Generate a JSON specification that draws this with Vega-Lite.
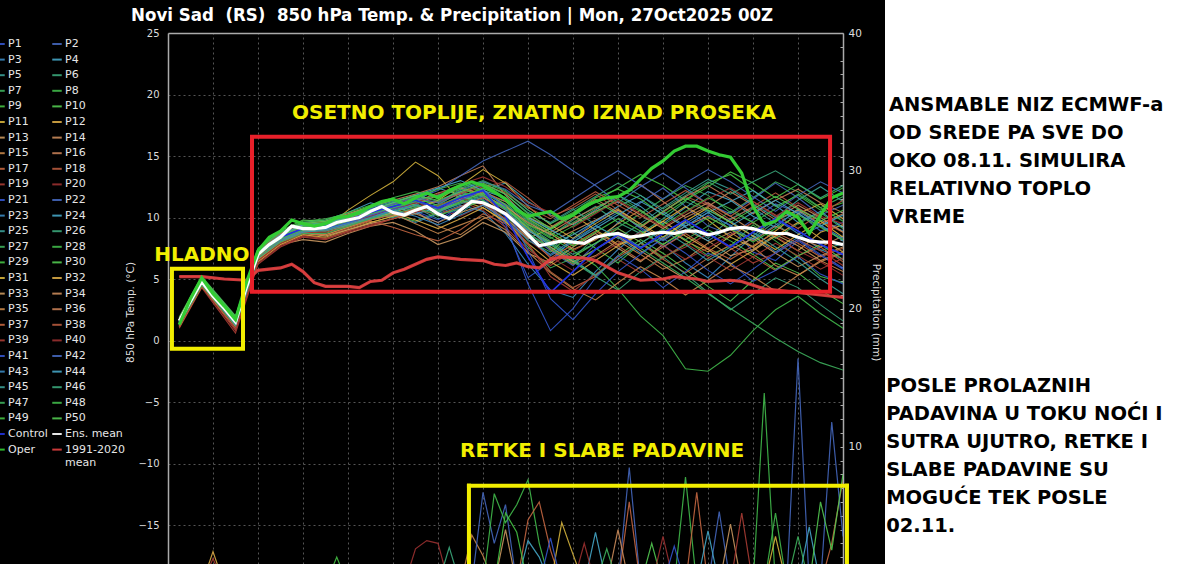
{
"$schema": "https://vega.github.io/schema/vega-lite/v6.json",
"background": "black",
"autosize": {"type": "none"},
"padding": {"left": 168, "top": 33, "right": 357, "bottom": 0},
"width": 675,
"height": 531,
"datasets": {
"temp": [
{"m":"P1","h":6,"t":1.4},{"m":"P1","h":18,"t":4.7},{"m":"P1","h":36,"t":1.2},{"m":"P1","h":48,"t":6.8},{"m":"P1","h":60,"t":8.2},{"m":"P1","h":72,"t":9.0},{"m":"P1","h":84,"t":9.5},{"m":"P1","h":96,"t":10.2},{"m":"P1","h":108,"t":10.8},{"m":"P1","h":120,"t":11.3},{"m":"P1","h":132,"t":10.4},{"m":"P1","h":144,"t":9.6},{"m":"P1","h":156,"t":10.8},{"m":"P1","h":168,"t":11.5},{"m":"P1","h":180,"t":9.2},{"m":"P1","h":192,"t":5.1},{"m":"P1","h":204,"t":6.4},{"m":"P1","h":216,"t":8.3},{"m":"P1","h":228,"t":9.7},{"m":"P1","h":240,"t":10.5},{"m":"P1","h":252,"t":9.1},{"m":"P1","h":264,"t":7.6},{"m":"P1","h":276,"t":8.8},{"m":"P1","h":288,"t":10.2},{"m":"P1","h":300,"t":9.4},{"m":"P1","h":312,"t":7.2},{"m":"P1","h":324,"t":6.5},{"m":"P1","h":336,"t":8.1},{"m":"P1","h":348,"t":6.9},{"m":"P1","h":360,"t":5.8},
{"m":"P2","h":6,"t":1.7},{"m":"P2","h":18,"t":4.9},{"m":"P2","h":36,"t":1.6},{"m":"P2","h":48,"t":7.1},{"m":"P2","h":60,"t":8.5},{"m":"P2","h":72,"t":9.3},{"m":"P2","h":84,"t":9.0},{"m":"P2","h":96,"t":9.6},{"m":"P2","h":108,"t":10.1},{"m":"P2","h":120,"t":10.9},{"m":"P2","h":132,"t":11.6},{"m":"P2","h":144,"t":11.0},{"m":"P2","h":156,"t":12.1},{"m":"P2","h":168,"t":12.6},{"m":"P2","h":180,"t":11.4},{"m":"P2","h":192,"t":8.8},{"m":"P2","h":204,"t":7.3},{"m":"P2","h":216,"t":6.1},{"m":"P2","h":228,"t":7.8},{"m":"P2","h":240,"t":9.6},{"m":"P2","h":252,"t":11.2},{"m":"P2","h":264,"t":12.4},{"m":"P2","h":276,"t":10.9},{"m":"P2","h":288,"t":9.3},{"m":"P2","h":300,"t":8.6},{"m":"P2","h":312,"t":9.8},{"m":"P2","h":324,"t":11.1},{"m":"P2","h":336,"t":10.4},{"m":"P2","h":348,"t":8.9},{"m":"P2","h":360,"t":9.6},
{"m":"P3","h":6,"t":1.2},{"m":"P3","h":18,"t":4.5},{"m":"P3","h":36,"t":1.0},{"m":"P3","h":48,"t":6.6},{"m":"P3","h":60,"t":8.0},{"m":"P3","h":72,"t":8.8},{"m":"P3","h":84,"t":8.9},{"m":"P3","h":96,"t":9.5},{"m":"P3","h":108,"t":9.9},{"m":"P3","h":120,"t":10.2},{"m":"P3","h":132,"t":9.6},{"m":"P3","h":144,"t":10.3},{"m":"P3","h":156,"t":11.0},{"m":"P3","h":168,"t":10.5},{"m":"P3","h":180,"t":8.7},{"m":"P3","h":192,"t":6.2},{"m":"P3","h":204,"t":4.1},{"m":"P3","h":216,"t":3.5},{"m":"P3","h":228,"t":5.6},{"m":"P3","h":240,"t":7.4},{"m":"P3","h":252,"t":8.9},{"m":"P3","h":264,"t":7.8},{"m":"P3","h":276,"t":6.3},{"m":"P3","h":288,"t":5.1},{"m":"P3","h":300,"t":6.8},{"m":"P3","h":312,"t":8.5},{"m":"P3","h":324,"t":9.9},{"m":"P3","h":336,"t":8.7},{"m":"P3","h":348,"t":7.4},{"m":"P3","h":360,"t":6.6},
{"m":"P4","h":6,"t":1.8},{"m":"P4","h":18,"t":5.0},{"m":"P4","h":36,"t":1.8},{"m":"P4","h":48,"t":7.3},{"m":"P4","h":60,"t":8.7},{"m":"P4","h":72,"t":9.6},{"m":"P4","h":84,"t":9.8},{"m":"P4","h":96,"t":10.4},{"m":"P4","h":108,"t":11.2},{"m":"P4","h":120,"t":10.7},{"m":"P4","h":132,"t":11.3},{"m":"P4","h":144,"t":12.4},{"m":"P4","h":156,"t":11.8},{"m":"P4","h":168,"t":12.2},{"m":"P4","h":180,"t":12.8},{"m":"P4","h":192,"t":11.3},{"m":"P4","h":204,"t":10.2},{"m":"P4","h":216,"t":9.4},{"m":"P4","h":228,"t":10.6},{"m":"P4","h":240,"t":11.8},{"m":"P4","h":252,"t":10.9},{"m":"P4","h":264,"t":9.5},{"m":"P4","h":276,"t":10.8},{"m":"P4","h":288,"t":12.1},{"m":"P4","h":300,"t":11.4},{"m":"P4","h":312,"t":10.1},{"m":"P4","h":324,"t":9.2},{"m":"P4","h":336,"t":10.7},{"m":"P4","h":348,"t":9.8},{"m":"P4","h":360,"t":8.9},
{"m":"P5","h":6,"t":1.5},{"m":"P5","h":18,"t":4.8},{"m":"P5","h":36,"t":1.4},{"m":"P5","h":48,"t":6.9},{"m":"P5","h":60,"t":8.3},{"m":"P5","h":72,"t":9.1},{"m":"P5","h":84,"t":9.3},{"m":"P5","h":96,"t":9.9},{"m":"P5","h":108,"t":10.6},{"m":"P5","h":120,"t":10.0},{"m":"P5","h":132,"t":10.8},{"m":"P5","h":144,"t":9.9},{"m":"P5","h":156,"t":10.3},{"m":"P5","h":168,"t":11.8},{"m":"P5","h":180,"t":10.7},{"m":"P5","h":192,"t":9.3},{"m":"P5","h":204,"t":8.1},{"m":"P5","h":216,"t":7.0},{"m":"P5","h":228,"t":7.9},{"m":"P5","h":240,"t":8.8},{"m":"P5","h":252,"t":7.6},{"m":"P5","h":264,"t":8.4},{"m":"P5","h":276,"t":9.6},{"m":"P5","h":288,"t":8.3},{"m":"P5","h":300,"t":9.9},{"m":"P5","h":312,"t":10.8},{"m":"P5","h":324,"t":9.5},{"m":"P5","h":336,"t":8.2},{"m":"P5","h":348,"t":7.3},{"m":"P5","h":360,"t":7.9},
{"m":"P6","h":6,"t":1.6},{"m":"P6","h":18,"t":4.9},{"m":"P6","h":36,"t":1.7},{"m":"P6","h":48,"t":7.2},{"m":"P6","h":60,"t":8.6},{"m":"P6","h":72,"t":9.4},{"m":"P6","h":84,"t":9.6},{"m":"P6","h":96,"t":10.0},{"m":"P6","h":108,"t":10.7},{"m":"P6","h":120,"t":10.5},{"m":"P6","h":132,"t":10.9},{"m":"P6","h":144,"t":10.6},{"m":"P6","h":156,"t":11.4},{"m":"P6","h":168,"t":12.0},{"m":"P6","h":180,"t":11.1},{"m":"P6","h":192,"t":9.7},{"m":"P6","h":204,"t":8.5},{"m":"P6","h":216,"t":9.8},{"m":"P6","h":228,"t":10.9},{"m":"P6","h":240,"t":9.6},{"m":"P6","h":252,"t":8.7},{"m":"P6","h":264,"t":9.9},{"m":"P6","h":276,"t":11.3},{"m":"P6","h":288,"t":10.5},{"m":"P6","h":300,"t":9.0},{"m":"P6","h":312,"t":8.3},{"m":"P6","h":324,"t":9.7},{"m":"P6","h":336,"t":10.6},{"m":"P6","h":348,"t":9.4},{"m":"P6","h":360,"t":8.1},
{"m":"P7","h":6,"t":1.3},{"m":"P7","h":18,"t":4.6},{"m":"P7","h":36,"t":1.3},{"m":"P7","h":48,"t":6.9},{"m":"P7","h":60,"t":8.4},{"m":"P7","h":72,"t":9.2},{"m":"P7","h":84,"t":9.4},{"m":"P7","h":96,"t":9.8},{"m":"P7","h":108,"t":10.3},{"m":"P7","h":120,"t":10.8},{"m":"P7","h":132,"t":11.2},{"m":"P7","h":144,"t":10.1},{"m":"P7","h":156,"t":10.9},{"m":"P7","h":168,"t":11.3},{"m":"P7","h":180,"t":9.8},{"m":"P7","h":192,"t":7.6},{"m":"P7","h":204,"t":5.9},{"m":"P7","h":216,"t":6.7},{"m":"P7","h":228,"t":8.4},{"m":"P7","h":240,"t":9.2},{"m":"P7","h":252,"t":10.3},{"m":"P7","h":264,"t":11.5},{"m":"P7","h":276,"t":12.6},{"m":"P7","h":288,"t":11.8},{"m":"P7","h":300,"t":10.4},{"m":"P7","h":312,"t":11.6},{"m":"P7","h":324,"t":12.9},{"m":"P7","h":336,"t":12.1},{"m":"P7","h":348,"t":10.8},{"m":"P7","h":360,"t":11.7},
{"m":"P8","h":6,"t":1.7},{"m":"P8","h":18,"t":5.1},{"m":"P8","h":36,"t":1.9},{"m":"P8","h":48,"t":7.4},{"m":"P8","h":60,"t":8.8},{"m":"P8","h":72,"t":9.7},{"m":"P8","h":84,"t":9.9},{"m":"P8","h":96,"t":10.3},{"m":"P8","h":108,"t":10.9},{"m":"P8","h":120,"t":11.5},{"m":"P8","h":132,"t":10.6},{"m":"P8","h":144,"t":10.9},{"m":"P8","h":156,"t":11.7},{"m":"P8","h":168,"t":11.1},{"m":"P8","h":180,"t":10.2},{"m":"P8","h":192,"t":8.1},{"m":"P8","h":204,"t":7.2},{"m":"P8","h":216,"t":8.8},{"m":"P8","h":228,"t":7.5},{"m":"P8","h":240,"t":6.3},{"m":"P8","h":252,"t":7.9},{"m":"P8","h":264,"t":9.1},{"m":"P8","h":276,"t":8.2},{"m":"P8","h":288,"t":6.9},{"m":"P8","h":300,"t":7.7},{"m":"P8","h":312,"t":9.4},{"m":"P8","h":324,"t":8.1},{"m":"P8","h":336,"t":6.8},{"m":"P8","h":348,"t":5.2},{"m":"P8","h":360,"t":4.7},
{"m":"P9","h":6,"t":1.4},{"m":"P9","h":18,"t":4.8},{"m":"P9","h":36,"t":1.5},{"m":"P9","h":48,"t":7.0},{"m":"P9","h":60,"t":8.5},{"m":"P9","h":72,"t":9.3},{"m":"P9","h":84,"t":9.2},{"m":"P9","h":96,"t":9.7},{"m":"P9","h":108,"t":10.4},{"m":"P9","h":120,"t":10.9},{"m":"P9","h":132,"t":11.4},{"m":"P9","h":144,"t":11.2},{"m":"P9","h":156,"t":12.3},{"m":"P9","h":168,"t":12.9},{"m":"P9","h":180,"t":12.1},{"m":"P9","h":192,"t":10.6},{"m":"P9","h":204,"t":9.5},{"m":"P9","h":216,"t":10.4},{"m":"P9","h":228,"t":11.6},{"m":"P9","h":240,"t":12.3},{"m":"P9","h":252,"t":11.5},{"m":"P9","h":264,"t":10.2},{"m":"P9","h":276,"t":11.4},{"m":"P9","h":288,"t":12.8},{"m":"P9","h":300,"t":13.5},{"m":"P9","h":312,"t":12.2},{"m":"P9","h":324,"t":10.9},{"m":"P9","h":336,"t":11.8},{"m":"P9","h":348,"t":10.6},{"m":"P9","h":360,"t":11.2},
{"m":"P10","h":6,"t":1.9},{"m":"P10","h":18,"t":5.2},{"m":"P10","h":36,"t":2.0},{"m":"P10","h":48,"t":7.5},{"m":"P10","h":60,"t":8.9},{"m":"P10","h":72,"t":9.8},{"m":"P10","h":84,"t":9.7},{"m":"P10","h":96,"t":10.1},{"m":"P10","h":108,"t":10.6},{"m":"P10","h":120,"t":10.2},{"m":"P10","h":132,"t":9.7},{"m":"P10","h":144,"t":10.4},{"m":"P10","h":156,"t":11.2},{"m":"P10","h":168,"t":11.6},{"m":"P10","h":180,"t":10.9},{"m":"P10","h":192,"t":9.1},{"m":"P10","h":204,"t":7.8},{"m":"P10","h":216,"t":6.5},{"m":"P10","h":228,"t":5.3},{"m":"P10","h":240,"t":6.9},{"m":"P10","h":252,"t":8.2},{"m":"P10","h":264,"t":7.1},{"m":"P10","h":276,"t":5.8},{"m":"P10","h":288,"t":4.4},{"m":"P10","h":300,"t":3.2},{"m":"P10","h":312,"t":4.9},{"m":"P10","h":324,"t":6.3},{"m":"P10","h":336,"t":5.5},{"m":"P10","h":348,"t":4.1},{"m":"P10","h":360,"t":3.0},
{"m":"P11","h":6,"t":1.1},{"m":"P11","h":18,"t":4.4},{"m":"P11","h":36,"t":1.1},{"m":"P11","h":48,"t":6.5},{"m":"P11","h":60,"t":7.9},{"m":"P11","h":72,"t":8.7},{"m":"P11","h":84,"t":9.1},{"m":"P11","h":96,"t":10.6},{"m":"P11","h":108,"t":11.8},{"m":"P11","h":120,"t":12.9},{"m":"P11","h":132,"t":14.5},{"m":"P11","h":144,"t":13.4},{"m":"P11","h":156,"t":11.4},{"m":"P11","h":168,"t":10.8},{"m":"P11","h":180,"t":9.6},{"m":"P11","h":192,"t":8.3},{"m":"P11","h":204,"t":9.1},{"m":"P11","h":216,"t":10.2},{"m":"P11","h":228,"t":9.0},{"m":"P11","h":240,"t":7.8},{"m":"P11","h":252,"t":8.6},{"m":"P11","h":264,"t":9.7},{"m":"P11","h":276,"t":10.9},{"m":"P11","h":288,"t":9.8},{"m":"P11","h":300,"t":8.4},{"m":"P11","h":312,"t":7.6},{"m":"P11","h":324,"t":8.9},{"m":"P11","h":336,"t":10.3},{"m":"P11","h":348,"t":11.1},{"m":"P11","h":360,"t":9.9},
{"m":"P12","h":6,"t":1.5},{"m":"P12","h":18,"t":4.7},{"m":"P12","h":36,"t":1.4},{"m":"P12","h":48,"t":6.8},{"m":"P12","h":60,"t":8.1},{"m":"P12","h":72,"t":8.9},{"m":"P12","h":84,"t":8.6},{"m":"P12","h":96,"t":9.2},{"m":"P12","h":108,"t":9.8},{"m":"P12","h":120,"t":10.4},{"m":"P12","h":132,"t":11.0},{"m":"P12","h":144,"t":10.5},{"m":"P12","h":156,"t":11.6},{"m":"P12","h":168,"t":12.2},{"m":"P12","h":180,"t":11.0},{"m":"P12","h":192,"t":9.4},{"m":"P12","h":204,"t":8.7},{"m":"P12","h":216,"t":7.4},{"m":"P12","h":228,"t":8.2},{"m":"P12","h":240,"t":9.5},{"m":"P12","h":252,"t":10.6},{"m":"P12","h":264,"t":9.3},{"m":"P12","h":276,"t":8.1},{"m":"P12","h":288,"t":7.2},{"m":"P12","h":300,"t":8.5},{"m":"P12","h":312,"t":9.6},{"m":"P12","h":324,"t":8.4},{"m":"P12","h":336,"t":7.3},{"m":"P12","h":348,"t":8.8},{"m":"P12","h":360,"t":9.4},
{"m":"P13","h":6,"t":1.3},{"m":"P13","h":18,"t":4.5},{"m":"P13","h":36,"t":1.2},{"m":"P13","h":48,"t":6.7},{"m":"P13","h":60,"t":7.8},{"m":"P13","h":72,"t":8.2},{"m":"P13","h":84,"t":8.0},{"m":"P13","h":96,"t":8.7},{"m":"P13","h":108,"t":9.3},{"m":"P13","h":120,"t":9.6},{"m":"P13","h":132,"t":8.9},{"m":"P13","h":144,"t":7.8},{"m":"P13","h":156,"t":8.4},{"m":"P13","h":168,"t":9.6},{"m":"P13","h":180,"t":8.8},{"m":"P13","h":192,"t":7.1},{"m":"P13","h":204,"t":6.3},{"m":"P13","h":216,"t":7.6},{"m":"P13","h":228,"t":8.7},{"m":"P13","h":240,"t":7.5},{"m":"P13","h":252,"t":6.4},{"m":"P13","h":264,"t":7.8},{"m":"P13","h":276,"t":9.0},{"m":"P13","h":288,"t":8.1},{"m":"P13","h":300,"t":6.9},{"m":"P13","h":312,"t":7.4},{"m":"P13","h":324,"t":8.6},{"m":"P13","h":336,"t":7.7},{"m":"P13","h":348,"t":6.5},{"m":"P13","h":360,"t":7.2},
{"m":"P14","h":6,"t":1.6},{"m":"P14","h":18,"t":4.9},{"m":"P14","h":36,"t":1.5},{"m":"P14","h":48,"t":7.0},{"m":"P14","h":60,"t":8.4},{"m":"P14","h":72,"t":9.0},{"m":"P14","h":84,"t":9.4},{"m":"P14","h":96,"t":9.9},{"m":"P14","h":108,"t":10.2},{"m":"P14","h":120,"t":10.7},{"m":"P14","h":132,"t":11.1},{"m":"P14","h":144,"t":11.8},{"m":"P14","h":156,"t":12.4},{"m":"P14","h":168,"t":11.7},{"m":"P14","h":180,"t":10.3},{"m":"P14","h":192,"t":8.9},{"m":"P14","h":204,"t":8.0},{"m":"P14","h":216,"t":8.9},{"m":"P14","h":228,"t":9.8},{"m":"P14","h":240,"t":10.7},{"m":"P14","h":252,"t":9.4},{"m":"P14","h":264,"t":8.2},{"m":"P14","h":276,"t":9.3},{"m":"P14","h":288,"t":10.1},{"m":"P14","h":300,"t":9.0},{"m":"P14","h":312,"t":8.1},{"m":"P14","h":324,"t":9.3},{"m":"P14","h":336,"t":8.4},{"m":"P14","h":348,"t":7.6},{"m":"P14","h":360,"t":8.5},
{"m":"P15","h":6,"t":1.2},{"m":"P15","h":18,"t":4.6},{"m":"P15","h":36,"t":1.0},{"m":"P15","h":48,"t":6.5},{"m":"P15","h":60,"t":8.0},{"m":"P15","h":72,"t":8.6},{"m":"P15","h":84,"t":8.3},{"m":"P15","h":96,"t":8.9},{"m":"P15","h":108,"t":9.6},{"m":"P15","h":120,"t":10.1},{"m":"P15","h":132,"t":10.5},{"m":"P15","h":144,"t":9.3},{"m":"P15","h":156,"t":8.6},{"m":"P15","h":168,"t":9.9},{"m":"P15","h":180,"t":10.4},{"m":"P15","h":192,"t":9.2},{"m":"P15","h":204,"t":7.4},{"m":"P15","h":216,"t":6.2},{"m":"P15","h":228,"t":6.9},{"m":"P15","h":240,"t":8.1},{"m":"P15","h":252,"t":7.0},{"m":"P15","h":264,"t":5.8},{"m":"P15","h":276,"t":6.6},{"m":"P15","h":288,"t":7.9},{"m":"P15","h":300,"t":8.8},{"m":"P15","h":312,"t":7.6},{"m":"P15","h":324,"t":6.1},{"m":"P15","h":336,"t":5.3},{"m":"P15","h":348,"t":6.4},{"m":"P15","h":360,"t":7.1},
{"m":"P16","h":6,"t":1.8},{"m":"P16","h":18,"t":5.0},{"m":"P16","h":36,"t":1.7},{"m":"P16","h":48,"t":7.2},{"m":"P16","h":60,"t":8.6},{"m":"P16","h":72,"t":9.5},{"m":"P16","h":84,"t":9.7},{"m":"P16","h":96,"t":10.3},{"m":"P16","h":108,"t":10.9},{"m":"P16","h":120,"t":11.4},{"m":"P16","h":132,"t":11.9},{"m":"P16","h":144,"t":12.5},{"m":"P16","h":156,"t":13.4},{"m":"P16","h":168,"t":14.2},{"m":"P16","h":180,"t":11.8},{"m":"P16","h":192,"t":9.9},{"m":"P16","h":204,"t":8.8},{"m":"P16","h":216,"t":9.9},{"m":"P16","h":228,"t":10.8},{"m":"P16","h":240,"t":11.6},{"m":"P16","h":252,"t":12.7},{"m":"P16","h":264,"t":11.3},{"m":"P16","h":276,"t":10.0},{"m":"P16","h":288,"t":10.9},{"m":"P16","h":300,"t":12.1},{"m":"P16","h":312,"t":11.0},{"m":"P16","h":324,"t":9.8},{"m":"P16","h":336,"t":10.6},{"m":"P16","h":348,"t":9.5},{"m":"P16","h":360,"t":10.3},
{"m":"P17","h":6,"t":1.4},{"m":"P17","h":18,"t":4.7},{"m":"P17","h":36,"t":1.3},{"m":"P17","h":48,"t":6.9},{"m":"P17","h":60,"t":8.2},{"m":"P17","h":72,"t":8.8},{"m":"P17","h":84,"t":8.5},{"m":"P17","h":96,"t":9.1},{"m":"P17","h":108,"t":9.7},{"m":"P17","h":120,"t":9.2},{"m":"P17","h":132,"t":8.6},{"m":"P17","h":144,"t":8.1},{"m":"P17","h":156,"t":9.0},{"m":"P17","h":168,"t":10.3},{"m":"P17","h":180,"t":9.5},{"m":"P17","h":192,"t":7.8},{"m":"P17","h":204,"t":5.6},{"m":"P17","h":216,"t":4.3},{"m":"P17","h":228,"t":5.2},{"m":"P17","h":240,"t":6.8},{"m":"P17","h":252,"t":7.9},{"m":"P17","h":264,"t":6.6},{"m":"P17","h":276,"t":5.5},{"m":"P17","h":288,"t":6.7},{"m":"P17","h":300,"t":7.8},{"m":"P17","h":312,"t":6.8},{"m":"P17","h":324,"t":5.7},{"m":"P17","h":336,"t":6.9},{"m":"P17","h":348,"t":7.6},{"m":"P17","h":360,"t":6.4},
{"m":"P18","h":6,"t":1.7},{"m":"P18","h":18,"t":5.0},{"m":"P18","h":36,"t":1.8},{"m":"P18","h":48,"t":7.3},{"m":"P18","h":60,"t":8.7},{"m":"P18","h":72,"t":9.4},{"m":"P18","h":84,"t":9.6},{"m":"P18","h":96,"t":10.2},{"m":"P18","h":108,"t":10.8},{"m":"P18","h":120,"t":10.3},{"m":"P18","h":132,"t":10.8},{"m":"P18","h":144,"t":11.3},{"m":"P18","h":156,"t":11.9},{"m":"P18","h":168,"t":12.5},{"m":"P18","h":180,"t":12.9},{"m":"P18","h":192,"t":11.6},{"m":"P18","h":204,"t":10.1},{"m":"P18","h":216,"t":10.8},{"m":"P18","h":228,"t":11.9},{"m":"P18","h":240,"t":10.6},{"m":"P18","h":252,"t":9.2},{"m":"P18","h":264,"t":10.4},{"m":"P18","h":276,"t":11.7},{"m":"P18","h":288,"t":11.0},{"m":"P18","h":300,"t":9.8},{"m":"P18","h":312,"t":10.9},{"m":"P18","h":324,"t":12.0},{"m":"P18","h":336,"t":10.8},{"m":"P18","h":348,"t":9.7},{"m":"P18","h":360,"t":8.8},
{"m":"P19","h":6,"t":1.0},{"m":"P19","h":18,"t":4.3},{"m":"P19","h":36,"t":0.6},{"m":"P19","h":48,"t":6.2},{"m":"P19","h":60,"t":7.6},{"m":"P19","h":72,"t":8.4},{"m":"P19","h":84,"t":8.2},{"m":"P19","h":96,"t":8.8},{"m":"P19","h":108,"t":9.3},{"m":"P19","h":120,"t":9.9},{"m":"P19","h":132,"t":10.4},{"m":"P19","h":144,"t":10.9},{"m":"P19","h":156,"t":11.3},{"m":"P19","h":168,"t":10.6},{"m":"P19","h":180,"t":9.2},{"m":"P19","h":192,"t":7.4},{"m":"P19","h":204,"t":6.1},{"m":"P19","h":216,"t":7.3},{"m":"P19","h":228,"t":8.3},{"m":"P19","h":240,"t":9.1},{"m":"P19","h":252,"t":8.0},{"m":"P19","h":264,"t":6.8},{"m":"P19","h":276,"t":7.6},{"m":"P19","h":288,"t":8.7},{"m":"P19","h":300,"t":7.5},{"m":"P19","h":312,"t":6.3},{"m":"P19","h":324,"t":7.1},{"m":"P19","h":336,"t":8.2},{"m":"P19","h":348,"t":7.3},{"m":"P19","h":360,"t":6.1},
{"m":"P20","h":6,"t":1.3},{"m":"P20","h":18,"t":4.5},{"m":"P20","h":36,"t":0.9},{"m":"P20","h":48,"t":6.4},{"m":"P20","h":60,"t":7.8},{"m":"P20","h":72,"t":8.5},{"m":"P20","h":84,"t":8.7},{"m":"P20","h":96,"t":9.4},{"m":"P20","h":108,"t":10.0},{"m":"P20","h":120,"t":10.6},{"m":"P20","h":132,"t":11.2},{"m":"P20","h":144,"t":10.7},{"m":"P20","h":156,"t":10.1},{"m":"P20","h":168,"t":11.0},{"m":"P20","h":180,"t":10.2},{"m":"P20","h":192,"t":8.2},{"m":"P20","h":204,"t":6.8},{"m":"P20","h":216,"t":5.7},{"m":"P20","h":228,"t":6.8},{"m":"P20","h":240,"t":7.9},{"m":"P20","h":252,"t":8.8},{"m":"P20","h":264,"t":7.7},{"m":"P20","h":276,"t":6.6},{"m":"P20","h":288,"t":7.5},{"m":"P20","h":300,"t":8.6},{"m":"P20","h":312,"t":9.6},{"m":"P20","h":324,"t":8.5},{"m":"P20","h":336,"t":7.3},{"m":"P20","h":348,"t":6.4},{"m":"P20","h":360,"t":5.3},
{"m":"P21","h":6,"t":1.5},{"m":"P21","h":18,"t":4.8},{"m":"P21","h":36,"t":1.4},{"m":"P21","h":48,"t":7.0},{"m":"P21","h":60,"t":8.4},{"m":"P21","h":72,"t":9.1},{"m":"P21","h":84,"t":9.4},{"m":"P21","h":96,"t":10.0},{"m":"P21","h":108,"t":10.7},{"m":"P21","h":120,"t":11.2},{"m":"P21","h":132,"t":10.5},{"m":"P21","h":144,"t":9.8},{"m":"P21","h":156,"t":10.9},{"m":"P21","h":168,"t":11.7},{"m":"P21","h":180,"t":9.5},{"m":"P21","h":192,"t":4.6},{"m":"P21","h":204,"t":0.8},{"m":"P21","h":216,"t":2.6},{"m":"P21","h":228,"t":5.1},{"m":"P21","h":240,"t":6.9},{"m":"P21","h":252,"t":5.8},{"m":"P21","h":264,"t":4.3},{"m":"P21","h":276,"t":5.6},{"m":"P21","h":288,"t":7.1},{"m":"P21","h":300,"t":6.3},{"m":"P21","h":312,"t":4.8},{"m":"P21","h":324,"t":5.7},{"m":"P21","h":336,"t":6.8},{"m":"P21","h":348,"t":5.4},{"m":"P21","h":360,"t":4.6},
{"m":"P22","h":6,"t":1.6},{"m":"P22","h":18,"t":4.9},{"m":"P22","h":36,"t":1.6},{"m":"P22","h":48,"t":7.1},{"m":"P22","h":60,"t":8.5},{"m":"P22","h":72,"t":9.2},{"m":"P22","h":84,"t":9.1},{"m":"P22","h":96,"t":9.7},{"m":"P22","h":108,"t":10.2},{"m":"P22","h":120,"t":10.8},{"m":"P22","h":132,"t":11.5},{"m":"P22","h":144,"t":12.2},{"m":"P22","h":156,"t":13.4},{"m":"P22","h":168,"t":14.6},{"m":"P22","h":180,"t":15.4},{"m":"P22","h":192,"t":16.2},{"m":"P22","h":204,"t":15.1},{"m":"P22","h":216,"t":13.8},{"m":"P22","h":228,"t":12.6},{"m":"P22","h":240,"t":11.2},{"m":"P22","h":252,"t":12.5},{"m":"P22","h":264,"t":13.6},{"m":"P22","h":276,"t":12.4},{"m":"P22","h":288,"t":11.1},{"m":"P22","h":300,"t":10.3},{"m":"P22","h":312,"t":11.5},{"m":"P22","h":324,"t":12.8},{"m":"P22","h":336,"t":11.6},{"m":"P22","h":348,"t":10.2},{"m":"P22","h":360,"t":11.0},
{"m":"P23","h":6,"t":1.3},{"m":"P23","h":18,"t":4.6},{"m":"P23","h":36,"t":1.1},{"m":"P23","h":48,"t":6.7},{"m":"P23","h":60,"t":8.1},{"m":"P23","h":72,"t":8.9},{"m":"P23","h":84,"t":9.0},{"m":"P23","h":96,"t":9.6},{"m":"P23","h":108,"t":10.1},{"m":"P23","h":120,"t":10.6},{"m":"P23","h":132,"t":11.1},{"m":"P23","h":144,"t":10.4},{"m":"P23","h":156,"t":11.5},{"m":"P23","h":168,"t":12.3},{"m":"P23","h":180,"t":10.8},{"m":"P23","h":192,"t":8.4},{"m":"P23","h":204,"t":6.9},{"m":"P23","h":216,"t":8.0},{"m":"P23","h":228,"t":9.3},{"m":"P23","h":240,"t":8.4},{"m":"P23","h":252,"t":7.1},{"m":"P23","h":264,"t":8.3},{"m":"P23","h":276,"t":9.5},{"m":"P23","h":288,"t":10.6},{"m":"P23","h":300,"t":9.7},{"m":"P23","h":312,"t":8.5},{"m":"P23","h":324,"t":7.2},{"m":"P23","h":336,"t":8.4},{"m":"P23","h":348,"t":9.3},{"m":"P23","h":360,"t":8.1},
{"m":"P24","h":6,"t":1.8},{"m":"P24","h":18,"t":5.1},{"m":"P24","h":36,"t":1.9},{"m":"P24","h":48,"t":7.4},{"m":"P24","h":60,"t":8.8},{"m":"P24","h":72,"t":9.5},{"m":"P24","h":84,"t":9.3},{"m":"P24","h":96,"t":9.9},{"m":"P24","h":108,"t":10.5},{"m":"P24","h":120,"t":11.0},{"m":"P24","h":132,"t":10.3},{"m":"P24","h":144,"t":10.8},{"m":"P24","h":156,"t":11.8},{"m":"P24","h":168,"t":11.2},{"m":"P24","h":180,"t":10.4},{"m":"P24","h":192,"t":9.0},{"m":"P24","h":204,"t":7.7},{"m":"P24","h":216,"t":8.6},{"m":"P24","h":228,"t":9.7},{"m":"P24","h":240,"t":10.9},{"m":"P24","h":252,"t":11.8},{"m":"P24","h":264,"t":10.5},{"m":"P24","h":276,"t":9.3},{"m":"P24","h":288,"t":10.4},{"m":"P24","h":300,"t":11.3},{"m":"P24","h":312,"t":12.2},{"m":"P24","h":324,"t":11.0},{"m":"P24","h":336,"t":9.6},{"m":"P24","h":348,"t":10.5},{"m":"P24","h":360,"t":9.2},
{"m":"P25","h":6,"t":1.4},{"m":"P25","h":18,"t":4.7},{"m":"P25","h":36,"t":1.3},{"m":"P25","h":48,"t":6.9},{"m":"P25","h":60,"t":8.3},{"m":"P25","h":72,"t":9.0},{"m":"P25","h":84,"t":9.2},{"m":"P25","h":96,"t":9.8},{"m":"P25","h":108,"t":10.3},{"m":"P25","h":120,"t":10.0},{"m":"P25","h":132,"t":10.6},{"m":"P25","h":144,"t":11.1},{"m":"P25","h":156,"t":12.0},{"m":"P25","h":168,"t":12.7},{"m":"P25","h":180,"t":11.9},{"m":"P25","h":192,"t":10.4},{"m":"P25","h":204,"t":9.6},{"m":"P25","h":216,"t":10.7},{"m":"P25","h":228,"t":9.4},{"m":"P25","h":240,"t":8.3},{"m":"P25","h":252,"t":9.5},{"m":"P25","h":264,"t":10.8},{"m":"P25","h":276,"t":12.0},{"m":"P25","h":288,"t":13.1},{"m":"P25","h":300,"t":12.3},{"m":"P25","h":312,"t":11.1},{"m":"P25","h":324,"t":10.0},{"m":"P25","h":336,"t":11.4},{"m":"P25","h":348,"t":12.5},{"m":"P25","h":360,"t":11.3},
{"m":"P26","h":6,"t":1.6},{"m":"P26","h":18,"t":4.8},{"m":"P26","h":36,"t":1.5},{"m":"P26","h":48,"t":7.0},{"m":"P26","h":60,"t":8.4},{"m":"P26","h":72,"t":9.2},{"m":"P26","h":84,"t":9.5},{"m":"P26","h":96,"t":10.1},{"m":"P26","h":108,"t":10.8},{"m":"P26","h":120,"t":11.3},{"m":"P26","h":132,"t":11.8},{"m":"P26","h":144,"t":11.3},{"m":"P26","h":156,"t":12.1},{"m":"P26","h":168,"t":11.4},{"m":"P26","h":180,"t":10.1},{"m":"P26","h":192,"t":8.7},{"m":"P26","h":204,"t":7.6},{"m":"P26","h":216,"t":6.4},{"m":"P26","h":228,"t":5.2},{"m":"P26","h":240,"t":4.1},{"m":"P26","h":252,"t":5.6},{"m":"P26","h":264,"t":6.8},{"m":"P26","h":276,"t":5.4},{"m":"P26","h":288,"t":3.9},{"m":"P26","h":300,"t":2.5},{"m":"P26","h":312,"t":3.8},{"m":"P26","h":324,"t":5.1},{"m":"P26","h":336,"t":4.3},{"m":"P26","h":348,"t":2.9},{"m":"P26","h":360,"t":1.6},
{"m":"P27","h":6,"t":1.2},{"m":"P27","h":18,"t":4.5},{"m":"P27","h":36,"t":1.2},{"m":"P27","h":48,"t":6.6},{"m":"P27","h":60,"t":8.0},{"m":"P27","h":72,"t":8.8},{"m":"P27","h":84,"t":9.0},{"m":"P27","h":96,"t":9.5},{"m":"P27","h":108,"t":10.0},{"m":"P27","h":120,"t":10.5},{"m":"P27","h":132,"t":11.0},{"m":"P27","h":144,"t":10.6},{"m":"P27","h":156,"t":11.2},{"m":"P27","h":168,"t":11.9},{"m":"P27","h":180,"t":11.3},{"m":"P27","h":192,"t":9.8},{"m":"P27","h":204,"t":8.6},{"m":"P27","h":216,"t":9.6},{"m":"P27","h":228,"t":10.7},{"m":"P27","h":240,"t":11.8},{"m":"P27","h":252,"t":10.6},{"m":"P27","h":264,"t":9.4},{"m":"P27","h":276,"t":8.2},{"m":"P27","h":288,"t":9.3},{"m":"P27","h":300,"t":10.5},{"m":"P27","h":312,"t":9.6},{"m":"P27","h":324,"t":8.3},{"m":"P27","h":336,"t":9.5},{"m":"P27","h":348,"t":10.4},{"m":"P27","h":360,"t":9.1},
{"m":"P28","h":6,"t":1.7},{"m":"P28","h":18,"t":5.0},{"m":"P28","h":36,"t":1.7},{"m":"P28","h":48,"t":7.2},{"m":"P28","h":60,"t":8.6},{"m":"P28","h":72,"t":9.4},{"m":"P28","h":84,"t":9.6},{"m":"P28","h":96,"t":10.1},{"m":"P28","h":108,"t":10.6},{"m":"P28","h":120,"t":11.1},{"m":"P28","h":132,"t":11.7},{"m":"P28","h":144,"t":12.3},{"m":"P28","h":156,"t":12.8},{"m":"P28","h":168,"t":12.1},{"m":"P28","h":180,"t":11.0},{"m":"P28","h":192,"t":9.5},{"m":"P28","h":204,"t":8.4},{"m":"P28","h":216,"t":7.3},{"m":"P28","h":228,"t":6.1},{"m":"P28","h":240,"t":4.2},{"m":"P28","h":252,"t":2.0},{"m":"P28","h":264,"t":0.4},{"m":"P28","h":276,"t":-2.3},{"m":"P28","h":288,"t":-2.5},{"m":"P28","h":300,"t":-1.2},{"m":"P28","h":312,"t":0.8},{"m":"P28","h":324,"t":2.5},{"m":"P28","h":336,"t":3.6},{"m":"P28","h":348,"t":2.2},{"m":"P28","h":360,"t":1.0},
{"m":"P29","h":6,"t":1.5},{"m":"P29","h":18,"t":4.9},{"m":"P29","h":36,"t":1.5},{"m":"P29","h":48,"t":7.1},{"m":"P29","h":60,"t":8.5},{"m":"P29","h":72,"t":9.3},{"m":"P29","h":84,"t":9.5},{"m":"P29","h":96,"t":10.0},{"m":"P29","h":108,"t":10.5},{"m":"P29","h":120,"t":11.0},{"m":"P29","h":132,"t":11.5},{"m":"P29","h":144,"t":11.0},{"m":"P29","h":156,"t":11.7},{"m":"P29","h":168,"t":12.4},{"m":"P29","h":180,"t":11.6},{"m":"P29","h":192,"t":10.1},{"m":"P29","h":204,"t":9.0},{"m":"P29","h":216,"t":10.1},{"m":"P29","h":228,"t":11.3},{"m":"P29","h":240,"t":12.4},{"m":"P29","h":252,"t":13.5},{"m":"P29","h":264,"t":12.6},{"m":"P29","h":276,"t":11.4},{"m":"P29","h":288,"t":12.5},{"m":"P29","h":300,"t":13.7},{"m":"P29","h":312,"t":12.8},{"m":"P29","h":324,"t":11.6},{"m":"P29","h":336,"t":12.7},{"m":"P29","h":348,"t":11.5},{"m":"P29","h":360,"t":12.4},
{"m":"P30","h":6,"t":1.8},{"m":"P30","h":18,"t":5.1},{"m":"P30","h":36,"t":1.8},{"m":"P30","h":48,"t":7.3},{"m":"P30","h":60,"t":8.7},{"m":"P30","h":72,"t":9.5},{"m":"P30","h":84,"t":9.7},{"m":"P30","h":96,"t":10.2},{"m":"P30","h":108,"t":10.9},{"m":"P30","h":120,"t":11.4},{"m":"P30","h":132,"t":11.0},{"m":"P30","h":144,"t":10.5},{"m":"P30","h":156,"t":11.3},{"m":"P30","h":168,"t":12.0},{"m":"P30","h":180,"t":10.7},{"m":"P30","h":192,"t":9.2},{"m":"P30","h":204,"t":8.0},{"m":"P30","h":216,"t":6.8},{"m":"P30","h":228,"t":7.9},{"m":"P30","h":240,"t":9.1},{"m":"P30","h":252,"t":8.0},{"m":"P30","h":264,"t":6.7},{"m":"P30","h":276,"t":7.8},{"m":"P30","h":288,"t":9.0},{"m":"P30","h":300,"t":8.1},{"m":"P30","h":312,"t":7.0},{"m":"P30","h":324,"t":5.8},{"m":"P30","h":336,"t":6.9},{"m":"P30","h":348,"t":7.8},{"m":"P30","h":360,"t":6.6},
{"m":"P31","h":6,"t":1.1},{"m":"P31","h":18,"t":4.4},{"m":"P31","h":36,"t":1.0},{"m":"P31","h":48,"t":6.4},{"m":"P31","h":60,"t":7.8},{"m":"P31","h":72,"t":8.6},{"m":"P31","h":84,"t":8.4},{"m":"P31","h":96,"t":9.0},{"m":"P31","h":108,"t":9.6},{"m":"P31","h":120,"t":10.1},{"m":"P31","h":132,"t":10.7},{"m":"P31","h":144,"t":11.4},{"m":"P31","h":156,"t":12.6},{"m":"P31","h":168,"t":13.9},{"m":"P31","h":180,"t":12.8},{"m":"P31","h":192,"t":10.9},{"m":"P31","h":204,"t":9.4},{"m":"P31","h":216,"t":8.3},{"m":"P31","h":228,"t":9.5},{"m":"P31","h":240,"t":10.6},{"m":"P31","h":252,"t":9.5},{"m":"P31","h":264,"t":8.4},{"m":"P31","h":276,"t":9.7},{"m":"P31","h":288,"t":10.8},{"m":"P31","h":300,"t":9.6},{"m":"P31","h":312,"t":8.5},{"m":"P31","h":324,"t":7.4},{"m":"P31","h":336,"t":8.6},{"m":"P31","h":348,"t":9.7},{"m":"P31","h":360,"t":8.4},
{"m":"P32","h":6,"t":1.6},{"m":"P32","h":18,"t":4.8},{"m":"P32","h":36,"t":1.5},{"m":"P32","h":48,"t":7.0},{"m":"P32","h":60,"t":8.3},{"m":"P32","h":72,"t":9.0},{"m":"P32","h":84,"t":8.9},{"m":"P32","h":96,"t":9.4},{"m":"P32","h":108,"t":9.9},{"m":"P32","h":120,"t":10.4},{"m":"P32","h":132,"t":9.8},{"m":"P32","h":144,"t":9.1},{"m":"P32","h":156,"t":9.9},{"m":"P32","h":168,"t":10.8},{"m":"P32","h":180,"t":9.7},{"m":"P32","h":192,"t":7.9},{"m":"P32","h":204,"t":6.4},{"m":"P32","h":216,"t":5.3},{"m":"P32","h":228,"t":6.5},{"m":"P32","h":240,"t":7.7},{"m":"P32","h":252,"t":8.6},{"m":"P32","h":264,"t":9.7},{"m":"P32","h":276,"t":8.5},{"m":"P32","h":288,"t":7.4},{"m":"P32","h":300,"t":6.2},{"m":"P32","h":312,"t":7.3},{"m":"P32","h":324,"t":8.5},{"m":"P32","h":336,"t":9.6},{"m":"P32","h":348,"t":8.3},{"m":"P32","h":360,"t":7.2},
{"m":"P33","h":6,"t":1.3},{"m":"P33","h":18,"t":4.6},{"m":"P33","h":36,"t":1.2},{"m":"P33","h":48,"t":6.7},{"m":"P33","h":60,"t":8.0},{"m":"P33","h":72,"t":8.7},{"m":"P33","h":84,"t":8.5},{"m":"P33","h":96,"t":9.0},{"m":"P33","h":108,"t":9.5},{"m":"P33","h":120,"t":9.9},{"m":"P33","h":132,"t":10.3},{"m":"P33","h":144,"t":9.6},{"m":"P33","h":156,"t":10.4},{"m":"P33","h":168,"t":11.0},{"m":"P33","h":180,"t":9.9},{"m":"P33","h":192,"t":8.4},{"m":"P33","h":204,"t":7.6},{"m":"P33","h":216,"t":6.4},{"m":"P33","h":228,"t":7.4},{"m":"P33","h":240,"t":8.5},{"m":"P33","h":252,"t":7.3},{"m":"P33","h":264,"t":6.1},{"m":"P33","h":276,"t":5.0},{"m":"P33","h":288,"t":6.2},{"m":"P33","h":300,"t":7.4},{"m":"P33","h":312,"t":8.3},{"m":"P33","h":324,"t":7.1},{"m":"P33","h":336,"t":6.0},{"m":"P33","h":348,"t":6.9},{"m":"P33","h":360,"t":7.6},
{"m":"P34","h":6,"t":1.7},{"m":"P34","h":18,"t":5.0},{"m":"P34","h":36,"t":1.6},{"m":"P34","h":48,"t":7.1},{"m":"P34","h":60,"t":8.5},{"m":"P34","h":72,"t":9.1},{"m":"P34","h":84,"t":9.2},{"m":"P34","h":96,"t":9.7},{"m":"P34","h":108,"t":10.2},{"m":"P34","h":120,"t":10.7},{"m":"P34","h":132,"t":11.3},{"m":"P34","h":144,"t":12.0},{"m":"P34","h":156,"t":12.5},{"m":"P34","h":168,"t":11.8},{"m":"P34","h":180,"t":10.9},{"m":"P34","h":192,"t":9.6},{"m":"P34","h":204,"t":8.6},{"m":"P34","h":216,"t":9.5},{"m":"P34","h":228,"t":10.5},{"m":"P34","h":240,"t":11.3},{"m":"P34","h":252,"t":10.2},{"m":"P34","h":264,"t":9.1},{"m":"P34","h":276,"t":10.2},{"m":"P34","h":288,"t":11.2},{"m":"P34","h":300,"t":10.1},{"m":"P34","h":312,"t":8.9},{"m":"P34","h":324,"t":9.9},{"m":"P34","h":336,"t":11.0},{"m":"P34","h":348,"t":10.0},{"m":"P34","h":360,"t":8.8},
{"m":"P35","h":6,"t":1.2},{"m":"P35","h":18,"t":4.5},{"m":"P35","h":36,"t":1.1},{"m":"P35","h":48,"t":6.6},{"m":"P35","h":60,"t":8.0},{"m":"P35","h":72,"t":8.7},{"m":"P35","h":84,"t":8.6},{"m":"P35","h":96,"t":9.2},{"m":"P35","h":108,"t":9.8},{"m":"P35","h":120,"t":10.3},{"m":"P35","h":132,"t":9.5},{"m":"P35","h":144,"t":8.7},{"m":"P35","h":156,"t":9.4},{"m":"P35","h":168,"t":10.1},{"m":"P35","h":180,"t":9.0},{"m":"P35","h":192,"t":7.2},{"m":"P35","h":204,"t":5.5},{"m":"P35","h":216,"t":4.2},{"m":"P35","h":228,"t":3.3},{"m":"P35","h":240,"t":4.7},{"m":"P35","h":252,"t":6.0},{"m":"P35","h":264,"t":5.0},{"m":"P35","h":276,"t":3.7},{"m":"P35","h":288,"t":4.9},{"m":"P35","h":300,"t":6.1},{"m":"P35","h":312,"t":5.2},{"m":"P35","h":324,"t":4.0},{"m":"P35","h":336,"t":5.3},{"m":"P35","h":348,"t":6.5},{"m":"P35","h":360,"t":5.6},
{"m":"P36","h":6,"t":1.6},{"m":"P36","h":18,"t":4.9},{"m":"P36","h":36,"t":1.5},{"m":"P36","h":48,"t":7.0},{"m":"P36","h":60,"t":8.4},{"m":"P36","h":72,"t":9.2},{"m":"P36","h":84,"t":9.3},{"m":"P36","h":96,"t":9.8},{"m":"P36","h":108,"t":10.4},{"m":"P36","h":120,"t":10.9},{"m":"P36","h":132,"t":11.4},{"m":"P36","h":144,"t":10.8},{"m":"P36","h":156,"t":11.5},{"m":"P36","h":168,"t":12.1},{"m":"P36","h":180,"t":11.3},{"m":"P36","h":192,"t":10.0},{"m":"P36","h":204,"t":9.2},{"m":"P36","h":216,"t":10.3},{"m":"P36","h":228,"t":11.5},{"m":"P36","h":240,"t":10.4},{"m":"P36","h":252,"t":9.2},{"m":"P36","h":264,"t":10.5},{"m":"P36","h":276,"t":11.7},{"m":"P36","h":288,"t":12.6},{"m":"P36","h":300,"t":11.5},{"m":"P36","h":312,"t":10.3},{"m":"P36","h":324,"t":11.4},{"m":"P36","h":336,"t":12.3},{"m":"P36","h":348,"t":11.2},{"m":"P36","h":360,"t":10.4},
{"m":"P37","h":6,"t":1.4},{"m":"P37","h":18,"t":4.6},{"m":"P37","h":36,"t":1.3},{"m":"P37","h":48,"t":6.8},{"m":"P37","h":60,"t":8.1},{"m":"P37","h":72,"t":8.8},{"m":"P37","h":84,"t":8.8},{"m":"P37","h":96,"t":9.3},{"m":"P37","h":108,"t":9.8},{"m":"P37","h":120,"t":10.2},{"m":"P37","h":132,"t":10.7},{"m":"P37","h":144,"t":10.2},{"m":"P37","h":156,"t":10.9},{"m":"P37","h":168,"t":11.6},{"m":"P37","h":180,"t":10.6},{"m":"P37","h":192,"t":8.5},{"m":"P37","h":204,"t":6.7},{"m":"P37","h":216,"t":7.8},{"m":"P37","h":228,"t":8.9},{"m":"P37","h":240,"t":7.7},{"m":"P37","h":252,"t":6.5},{"m":"P37","h":264,"t":7.6},{"m":"P37","h":276,"t":8.7},{"m":"P37","h":288,"t":7.5},{"m":"P37","h":300,"t":6.6},{"m":"P37","h":312,"t":7.7},{"m":"P37","h":324,"t":8.8},{"m":"P37","h":336,"t":7.9},{"m":"P37","h":348,"t":6.8},{"m":"P37","h":360,"t":7.5},
{"m":"P38","h":6,"t":1.8},{"m":"P38","h":18,"t":5.1},{"m":"P38","h":36,"t":1.7},{"m":"P38","h":48,"t":7.3},{"m":"P38","h":60,"t":8.7},{"m":"P38","h":72,"t":9.4},{"m":"P38","h":84,"t":9.3},{"m":"P38","h":96,"t":9.9},{"m":"P38","h":108,"t":10.5},{"m":"P38","h":120,"t":11.1},{"m":"P38","h":132,"t":11.6},{"m":"P38","h":144,"t":11.2},{"m":"P38","h":156,"t":12.0},{"m":"P38","h":168,"t":12.7},{"m":"P38","h":180,"t":12.0},{"m":"P38","h":192,"t":10.8},{"m":"P38","h":204,"t":9.9},{"m":"P38","h":216,"t":11.0},{"m":"P38","h":228,"t":12.1},{"m":"P38","h":240,"t":11.0},{"m":"P38","h":252,"t":10.0},{"m":"P38","h":264,"t":11.1},{"m":"P38","h":276,"t":12.2},{"m":"P38","h":288,"t":11.1},{"m":"P38","h":300,"t":10.1},{"m":"P38","h":312,"t":11.3},{"m":"P38","h":324,"t":10.2},{"m":"P38","h":336,"t":9.1},{"m":"P38","h":348,"t":10.3},{"m":"P38","h":360,"t":11.4},
{"m":"P39","h":6,"t":1.1},{"m":"P39","h":18,"t":4.4},{"m":"P39","h":36,"t":0.8},{"m":"P39","h":48,"t":6.3},{"m":"P39","h":60,"t":7.7},{"m":"P39","h":72,"t":8.5},{"m":"P39","h":84,"t":8.3},{"m":"P39","h":96,"t":8.9},{"m":"P39","h":108,"t":9.4},{"m":"P39","h":120,"t":9.9},{"m":"P39","h":132,"t":10.5},{"m":"P39","h":144,"t":11.0},{"m":"P39","h":156,"t":11.6},{"m":"P39","h":168,"t":11.0},{"m":"P39","h":180,"t":9.9},{"m":"P39","h":192,"t":7.9},{"m":"P39","h":204,"t":5.2},{"m":"P39","h":216,"t":4.0},{"m":"P39","h":228,"t":5.4},{"m":"P39","h":240,"t":6.6},{"m":"P39","h":252,"t":5.5},{"m":"P39","h":264,"t":6.7},{"m":"P39","h":276,"t":7.9},{"m":"P39","h":288,"t":6.8},{"m":"P39","h":300,"t":5.7},{"m":"P39","h":312,"t":6.8},{"m":"P39","h":324,"t":7.9},{"m":"P39","h":336,"t":6.9},{"m":"P39","h":348,"t":5.8},{"m":"P39","h":360,"t":6.7},
{"m":"P40","h":6,"t":1.4},{"m":"P40","h":18,"t":4.6},{"m":"P40","h":36,"t":1.0},{"m":"P40","h":48,"t":6.5},{"m":"P40","h":60,"t":7.9},{"m":"P40","h":72,"t":8.7},{"m":"P40","h":84,"t":8.9},{"m":"P40","h":96,"t":9.5},{"m":"P40","h":108,"t":10.1},{"m":"P40","h":120,"t":10.7},{"m":"P40","h":132,"t":11.2},{"m":"P40","h":144,"t":11.9},{"m":"P40","h":156,"t":12.7},{"m":"P40","h":168,"t":13.3},{"m":"P40","h":180,"t":12.5},{"m":"P40","h":192,"t":11.2},{"m":"P40","h":204,"t":10.4},{"m":"P40","h":216,"t":9.2},{"m":"P40","h":228,"t":10.3},{"m":"P40","h":240,"t":11.4},{"m":"P40","h":252,"t":10.3},{"m":"P40","h":264,"t":9.2},{"m":"P40","h":276,"t":10.4},{"m":"P40","h":288,"t":11.5},{"m":"P40","h":300,"t":12.4},{"m":"P40","h":312,"t":11.3},{"m":"P40","h":324,"t":10.1},{"m":"P40","h":336,"t":11.2},{"m":"P40","h":348,"t":10.1},{"m":"P40","h":360,"t":9.5},
{"m":"P41","h":6,"t":1.5},{"m":"P41","h":18,"t":4.7},{"m":"P41","h":36,"t":1.5},{"m":"P41","h":48,"t":7.0},{"m":"P41","h":60,"t":8.3},{"m":"P41","h":72,"t":9.0},{"m":"P41","h":84,"t":9.1},{"m":"P41","h":96,"t":9.6},{"m":"P41","h":108,"t":10.2},{"m":"P41","h":120,"t":10.7},{"m":"P41","h":132,"t":11.3},{"m":"P41","h":144,"t":10.7},{"m":"P41","h":156,"t":11.4},{"m":"P41","h":168,"t":12.2},{"m":"P41","h":180,"t":10.9},{"m":"P41","h":192,"t":7.3},{"m":"P41","h":204,"t":3.4},{"m":"P41","h":216,"t":1.7},{"m":"P41","h":228,"t":3.8},{"m":"P41","h":240,"t":5.6},{"m":"P41","h":252,"t":7.0},{"m":"P41","h":264,"t":8.3},{"m":"P41","h":276,"t":7.1},{"m":"P41","h":288,"t":5.7},{"m":"P41","h":300,"t":4.6},{"m":"P41","h":312,"t":5.8},{"m":"P41","h":324,"t":7.1},{"m":"P41","h":336,"t":8.2},{"m":"P41","h":348,"t":7.0},{"m":"P41","h":360,"t":5.9},
{"m":"P42","h":6,"t":1.6},{"m":"P42","h":18,"t":4.9},{"m":"P42","h":36,"t":1.6},{"m":"P42","h":48,"t":7.1},{"m":"P42","h":60,"t":8.5},{"m":"P42","h":72,"t":9.3},{"m":"P42","h":84,"t":9.4},{"m":"P42","h":96,"t":10.0},{"m":"P42","h":108,"t":10.6},{"m":"P42","h":120,"t":11.1},{"m":"P42","h":132,"t":11.6},{"m":"P42","h":144,"t":11.2},{"m":"P42","h":156,"t":12.2},{"m":"P42","h":168,"t":12.9},{"m":"P42","h":180,"t":12.3},{"m":"P42","h":192,"t":11.0},{"m":"P42","h":204,"t":10.3},{"m":"P42","h":216,"t":11.5},{"m":"P42","h":228,"t":12.7},{"m":"P42","h":240,"t":13.8},{"m":"P42","h":252,"t":12.6},{"m":"P42","h":264,"t":11.5},{"m":"P42","h":276,"t":12.8},{"m":"P42","h":288,"t":13.9},{"m":"P42","h":300,"t":12.9},{"m":"P42","h":312,"t":11.7},{"m":"P42","h":324,"t":10.5},{"m":"P42","h":336,"t":11.8},{"m":"P42","h":348,"t":12.9},{"m":"P42","h":360,"t":12.0},
{"m":"P43","h":6,"t":1.3},{"m":"P43","h":18,"t":4.6},{"m":"P43","h":36,"t":1.2},{"m":"P43","h":48,"t":6.7},{"m":"P43","h":60,"t":8.1},{"m":"P43","h":72,"t":8.8},{"m":"P43","h":84,"t":9.0},{"m":"P43","h":96,"t":9.5},{"m":"P43","h":108,"t":10.0},{"m":"P43","h":120,"t":10.6},{"m":"P43","h":132,"t":10.1},{"m":"P43","h":144,"t":9.4},{"m":"P43","h":156,"t":10.2},{"m":"P43","h":168,"t":11.0},{"m":"P43","h":180,"t":9.8},{"m":"P43","h":192,"t":8.2},{"m":"P43","h":204,"t":7.0},{"m":"P43","h":216,"t":8.2},{"m":"P43","h":228,"t":9.3},{"m":"P43","h":240,"t":10.4},{"m":"P43","h":252,"t":9.2},{"m":"P43","h":264,"t":8.1},{"m":"P43","h":276,"t":9.3},{"m":"P43","h":288,"t":10.4},{"m":"P43","h":300,"t":9.3},{"m":"P43","h":312,"t":8.2},{"m":"P43","h":324,"t":9.4},{"m":"P43","h":336,"t":10.5},{"m":"P43","h":348,"t":9.4},{"m":"P43","h":360,"t":8.3},
{"m":"P44","h":6,"t":1.7},{"m":"P44","h":18,"t":5.0},{"m":"P44","h":36,"t":1.8},{"m":"P44","h":48,"t":7.2},{"m":"P44","h":60,"t":8.6},{"m":"P44","h":72,"t":9.4},{"m":"P44","h":84,"t":9.5},{"m":"P44","h":96,"t":10.0},{"m":"P44","h":108,"t":10.6},{"m":"P44","h":120,"t":11.2},{"m":"P44","h":132,"t":11.8},{"m":"P44","h":144,"t":12.4},{"m":"P44","h":156,"t":13.0},{"m":"P44","h":168,"t":12.2},{"m":"P44","h":180,"t":11.6},{"m":"P44","h":192,"t":10.0},{"m":"P44","h":204,"t":9.0},{"m":"P44","h":216,"t":8.0},{"m":"P44","h":228,"t":9.1},{"m":"P44","h":240,"t":10.2},{"m":"P44","h":252,"t":11.3},{"m":"P44","h":264,"t":10.3},{"m":"P44","h":276,"t":9.2},{"m":"P44","h":288,"t":8.1},{"m":"P44","h":300,"t":9.3},{"m":"P44","h":312,"t":10.4},{"m":"P44","h":324,"t":11.4},{"m":"P44","h":336,"t":10.3},{"m":"P44","h":348,"t":9.3},{"m":"P44","h":360,"t":10.2},
{"m":"P45","h":6,"t":1.4},{"m":"P45","h":18,"t":4.7},{"m":"P45","h":36,"t":1.4},{"m":"P45","h":48,"t":6.9},{"m":"P45","h":60,"t":8.2},{"m":"P45","h":72,"t":8.9},{"m":"P45","h":84,"t":8.9},{"m":"P45","h":96,"t":9.4},{"m":"P45","h":108,"t":9.9},{"m":"P45","h":120,"t":10.5},{"m":"P45","h":132,"t":11.0},{"m":"P45","h":144,"t":10.5},{"m":"P45","h":156,"t":11.1},{"m":"P45","h":168,"t":11.8},{"m":"P45","h":180,"t":10.6},{"m":"P45","h":192,"t":9.0},{"m":"P45","h":204,"t":7.9},{"m":"P45","h":216,"t":6.6},{"m":"P45","h":228,"t":5.3},{"m":"P45","h":240,"t":6.6},{"m":"P45","h":252,"t":7.9},{"m":"P45","h":264,"t":9.0},{"m":"P45","h":276,"t":7.8},{"m":"P45","h":288,"t":6.5},{"m":"P45","h":300,"t":7.6},{"m":"P45","h":312,"t":8.8},{"m":"P45","h":324,"t":7.6},{"m":"P45","h":336,"t":6.4},{"m":"P45","h":348,"t":5.0},{"m":"P45","h":360,"t":3.8},
{"m":"P46","h":6,"t":1.5},{"m":"P46","h":18,"t":4.8},{"m":"P46","h":36,"t":1.5},{"m":"P46","h":48,"t":7.0},{"m":"P46","h":60,"t":8.4},{"m":"P46","h":72,"t":9.1},{"m":"P46","h":84,"t":9.3},{"m":"P46","h":96,"t":9.8},{"m":"P46","h":108,"t":10.5},{"m":"P46","h":120,"t":11.0},{"m":"P46","h":132,"t":11.4},{"m":"P46","h":144,"t":11.8},{"m":"P46","h":156,"t":12.4},{"m":"P46","h":168,"t":13.0},{"m":"P46","h":180,"t":12.2},{"m":"P46","h":192,"t":10.6},{"m":"P46","h":204,"t":9.5},{"m":"P46","h":216,"t":10.6},{"m":"P46","h":228,"t":11.7},{"m":"P46","h":240,"t":12.8},{"m":"P46","h":252,"t":11.8},{"m":"P46","h":264,"t":10.7},{"m":"P46","h":276,"t":11.8},{"m":"P46","h":288,"t":12.9},{"m":"P46","h":300,"t":11.9},{"m":"P46","h":312,"t":12.9},{"m":"P46","h":324,"t":13.8},{"m":"P46","h":336,"t":12.7},{"m":"P46","h":348,"t":11.6},{"m":"P46","h":360,"t":12.6},
{"m":"P47","h":6,"t":1.3},{"m":"P47","h":18,"t":4.5},{"m":"P47","h":36,"t":1.2},{"m":"P47","h":48,"t":6.7},{"m":"P47","h":60,"t":8.0},{"m":"P47","h":72,"t":8.7},{"m":"P47","h":84,"t":8.7},{"m":"P47","h":96,"t":9.3},{"m":"P47","h":108,"t":9.9},{"m":"P47","h":120,"t":10.3},{"m":"P47","h":132,"t":10.8},{"m":"P47","h":144,"t":10.2},{"m":"P47","h":156,"t":10.7},{"m":"P47","h":168,"t":11.4},{"m":"P47","h":180,"t":10.2},{"m":"P47","h":192,"t":8.7},{"m":"P47","h":204,"t":7.5},{"m":"P47","h":216,"t":6.3},{"m":"P47","h":228,"t":7.4},{"m":"P47","h":240,"t":8.6},{"m":"P47","h":252,"t":7.5},{"m":"P47","h":264,"t":6.3},{"m":"P47","h":276,"t":5.1},{"m":"P47","h":288,"t":3.8},{"m":"P47","h":300,"t":2.6},{"m":"P47","h":312,"t":1.4},{"m":"P47","h":324,"t":0.2},{"m":"P47","h":336,"t":-0.9},{"m":"P47","h":348,"t":-1.8},{"m":"P47","h":360,"t":-2.4},
{"m":"P48","h":6,"t":1.8},{"m":"P48","h":18,"t":5.1},{"m":"P48","h":36,"t":1.9},{"m":"P48","h":48,"t":7.4},{"m":"P48","h":60,"t":8.8},{"m":"P48","h":72,"t":9.6},{"m":"P48","h":84,"t":9.8},{"m":"P48","h":96,"t":10.4},{"m":"P48","h":108,"t":11.0},{"m":"P48","h":120,"t":11.6},{"m":"P48","h":132,"t":12.1},{"m":"P48","h":144,"t":11.7},{"m":"P48","h":156,"t":12.3},{"m":"P48","h":168,"t":11.8},{"m":"P48","h":180,"t":10.8},{"m":"P48","h":192,"t":9.4},{"m":"P48","h":204,"t":8.3},{"m":"P48","h":216,"t":9.3},{"m":"P48","h":228,"t":10.4},{"m":"P48","h":240,"t":11.5},{"m":"P48","h":252,"t":10.5},{"m":"P48","h":264,"t":9.4},{"m":"P48","h":276,"t":10.5},{"m":"P48","h":288,"t":11.6},{"m":"P48","h":300,"t":10.7},{"m":"P48","h":312,"t":9.6},{"m":"P48","h":324,"t":10.7},{"m":"P48","h":336,"t":11.9},{"m":"P48","h":348,"t":10.8},{"m":"P48","h":360,"t":9.7},
{"m":"P49","h":6,"t":1.5},{"m":"P49","h":18,"t":4.8},{"m":"P49","h":36,"t":1.4},{"m":"P49","h":48,"t":6.9},{"m":"P49","h":60,"t":8.3},{"m":"P49","h":72,"t":9.0},{"m":"P49","h":84,"t":9.2},{"m":"P49","h":96,"t":9.7},{"m":"P49","h":108,"t":10.3},{"m":"P49","h":120,"t":10.8},{"m":"P49","h":132,"t":11.3},{"m":"P49","h":144,"t":10.9},{"m":"P49","h":156,"t":11.6},{"m":"P49","h":168,"t":12.4},{"m":"P49","h":180,"t":11.5},{"m":"P49","h":192,"t":9.9},{"m":"P49","h":204,"t":8.8},{"m":"P49","h":216,"t":7.7},{"m":"P49","h":228,"t":8.8},{"m":"P49","h":240,"t":9.9},{"m":"P49","h":252,"t":8.9},{"m":"P49","h":264,"t":7.8},{"m":"P49","h":276,"t":8.9},{"m":"P49","h":288,"t":10.0},{"m":"P49","h":300,"t":9.1},{"m":"P49","h":312,"t":8.0},{"m":"P49","h":324,"t":9.1},{"m":"P49","h":336,"t":10.2},{"m":"P49","h":348,"t":9.2},{"m":"P49","h":360,"t":8.2},
{"m":"P50","h":6,"t":1.6},{"m":"P50","h":18,"t":4.9},{"m":"P50","h":36,"t":1.6},{"m":"P50","h":48,"t":7.1},{"m":"P50","h":60,"t":8.5},{"m":"P50","h":72,"t":9.3},{"m":"P50","h":84,"t":9.4},{"m":"P50","h":96,"t":10.0},{"m":"P50","h":108,"t":10.6},{"m":"P50","h":120,"t":11.2},{"m":"P50","h":132,"t":11.8},{"m":"P50","h":144,"t":11.4},{"m":"P50","h":156,"t":12.1},{"m":"P50","h":168,"t":12.8},{"m":"P50","h":180,"t":11.9},{"m":"P50","h":192,"t":10.3},{"m":"P50","h":204,"t":9.1},{"m":"P50","h":216,"t":10.2},{"m":"P50","h":228,"t":11.3},{"m":"P50","h":240,"t":10.3},{"m":"P50","h":252,"t":9.3},{"m":"P50","h":264,"t":10.5},{"m":"P50","h":276,"t":11.6},{"m":"P50","h":288,"t":10.6},{"m":"P50","h":300,"t":9.6},{"m":"P50","h":312,"t":10.7},{"m":"P50","h":324,"t":11.7},{"m":"P50","h":336,"t":10.7},{"m":"P50","h":348,"t":9.7},{"m":"P50","h":360,"t":10.6},
{"m":"Control","h":6,"t":1.5},{"m":"Control","h":18,"t":4.8},{"m":"Control","h":36,"t":1.4},{"m":"Control","h":48,"t":7.0},{"m":"Control","h":60,"t":8.4},{"m":"Control","h":72,"t":9.1},{"m":"Control","h":84,"t":9.3},{"m":"Control","h":96,"t":9.8},{"m":"Control","h":108,"t":10.4},{"m":"Control","h":120,"t":10.9},{"m":"Control","h":132,"t":11.4},{"m":"Control","h":144,"t":10.8},{"m":"Control","h":156,"t":11.6},{"m":"Control","h":168,"t":12.2},{"m":"Control","h":180,"t":10.1},{"m":"Control","h":192,"t":6.8},{"m":"Control","h":204,"t":3.9},{"m":"Control","h":216,"t":5.6},{"m":"Control","h":228,"t":7.4},{"m":"Control","h":240,"t":8.6},{"m":"Control","h":252,"t":7.5},{"m":"Control","h":264,"t":8.7},{"m":"Control","h":276,"t":9.8},{"m":"Control","h":288,"t":8.7},{"m":"Control","h":300,"t":7.6},{"m":"Control","h":312,"t":8.8},{"m":"Control","h":324,"t":9.9},{"m":"Control","h":336,"t":8.9},{"m":"Control","h":348,"t":7.8},{"m":"Control","h":360,"t":7.0},
{"m":"1991-2020 mean","h":6,"t":5.2},{"m":"1991-2020 mean","h":18,"t":5.2},{"m":"1991-2020 mean","h":30,"t":5.0},{"m":"1991-2020 mean","h":42,"t":4.9},{"m":"1991-2020 mean","h":48,"t":5.7},{"m":"1991-2020 mean","h":60,"t":5.9},{"m":"1991-2020 mean","h":66,"t":6.2},{"m":"1991-2020 mean","h":72,"t":5.6},{"m":"1991-2020 mean","h":78,"t":4.7},{"m":"1991-2020 mean","h":84,"t":4.4},{"m":"1991-2020 mean","h":96,"t":4.4},{"m":"1991-2020 mean","h":102,"t":4.3},{"m":"1991-2020 mean","h":108,"t":4.8},{"m":"1991-2020 mean","h":114,"t":4.9},{"m":"1991-2020 mean","h":120,"t":5.5},{"m":"1991-2020 mean","h":126,"t":5.8},{"m":"1991-2020 mean","h":138,"t":6.6},{"m":"1991-2020 mean","h":144,"t":6.8},{"m":"1991-2020 mean","h":156,"t":6.6},{"m":"1991-2020 mean","h":168,"t":6.5},{"m":"1991-2020 mean","h":174,"t":6.2},{"m":"1991-2020 mean","h":180,"t":6.1},{"m":"1991-2020 mean","h":186,"t":6.3},{"m":"1991-2020 mean","h":192,"t":6.0},{"m":"1991-2020 mean","h":198,"t":5.9},{"m":"1991-2020 mean","h":204,"t":6.6},{"m":"1991-2020 mean","h":210,"t":6.8},{"m":"1991-2020 mean","h":222,"t":6.7},{"m":"1991-2020 mean","h":228,"t":6.5},{"m":"1991-2020 mean","h":234,"t":6.0},{"m":"1991-2020 mean","h":240,"t":5.5},{"m":"1991-2020 mean","h":246,"t":5.2},{"m":"1991-2020 mean","h":252,"t":4.9},{"m":"1991-2020 mean","h":264,"t":5.0},{"m":"1991-2020 mean","h":270,"t":5.2},{"m":"1991-2020 mean","h":282,"t":5.0},{"m":"1991-2020 mean","h":288,"t":4.8},{"m":"1991-2020 mean","h":300,"t":4.9},{"m":"1991-2020 mean","h":306,"t":4.8},{"m":"1991-2020 mean","h":318,"t":4.2},{"m":"1991-2020 mean","h":330,"t":4.0},{"m":"1991-2020 mean","h":342,"t":3.8},{"m":"1991-2020 mean","h":354,"t":3.6},{"m":"1991-2020 mean","h":360,"t":3.5},
{"m":"Ens. mean","h":6,"t":1.6},{"m":"Ens. mean","h":12,"t":3.2},{"m":"Ens. mean","h":18,"t":4.8},{"m":"Ens. mean","h":24,"t":3.6},{"m":"Ens. mean","h":30,"t":2.6},{"m":"Ens. mean","h":36,"t":1.5},{"m":"Ens. mean","h":42,"t":4.4},{"m":"Ens. mean","h":48,"t":7.0},{"m":"Ens. mean","h":54,"t":7.8},{"m":"Ens. mean","h":60,"t":8.4},{"m":"Ens. mean","h":66,"t":9.3},{"m":"Ens. mean","h":72,"t":9.1},{"m":"Ens. mean","h":78,"t":9.1},{"m":"Ens. mean","h":84,"t":9.2},{"m":"Ens. mean","h":90,"t":9.6},{"m":"Ens. mean","h":96,"t":9.8},{"m":"Ens. mean","h":102,"t":10.0},{"m":"Ens. mean","h":108,"t":10.5},{"m":"Ens. mean","h":114,"t":10.9},{"m":"Ens. mean","h":120,"t":10.4},{"m":"Ens. mean","h":126,"t":10.2},{"m":"Ens. mean","h":132,"t":10.6},{"m":"Ens. mean","h":138,"t":10.9},{"m":"Ens. mean","h":144,"t":10.3},{"m":"Ens. mean","h":150,"t":9.9},{"m":"Ens. mean","h":156,"t":10.6},{"m":"Ens. mean","h":162,"t":11.3},{"m":"Ens. mean","h":168,"t":11.2},{"m":"Ens. mean","h":174,"t":10.8},{"m":"Ens. mean","h":180,"t":10.3},{"m":"Ens. mean","h":186,"t":9.5},{"m":"Ens. mean","h":192,"t":8.6},{"m":"Ens. mean","h":198,"t":7.7},{"m":"Ens. mean","h":204,"t":7.9},{"m":"Ens. mean","h":210,"t":8.1},{"m":"Ens. mean","h":216,"t":8.0},{"m":"Ens. mean","h":222,"t":7.9},{"m":"Ens. mean","h":228,"t":8.4},{"m":"Ens. mean","h":234,"t":8.6},{"m":"Ens. mean","h":240,"t":8.7},{"m":"Ens. mean","h":246,"t":8.4},{"m":"Ens. mean","h":252,"t":8.5},{"m":"Ens. mean","h":258,"t":8.7},{"m":"Ens. mean","h":264,"t":8.8},{"m":"Ens. mean","h":270,"t":8.7},{"m":"Ens. mean","h":276,"t":8.9},{"m":"Ens. mean","h":282,"t":8.9},{"m":"Ens. mean","h":288,"t":8.6},{"m":"Ens. mean","h":294,"t":8.8},{"m":"Ens. mean","h":300,"t":9.1},{"m":"Ens. mean","h":306,"t":9.2},{"m":"Ens. mean","h":312,"t":9.1},{"m":"Ens. mean","h":318,"t":8.8},{"m":"Ens. mean","h":324,"t":8.7},{"m":"Ens. mean","h":330,"t":8.7},{"m":"Ens. mean","h":336,"t":8.4},{"m":"Ens. mean","h":342,"t":8.1},{"m":"Ens. mean","h":348,"t":8.0},{"m":"Ens. mean","h":354,"t":8.0},{"m":"Ens. mean","h":360,"t":7.8},
{"m":"Oper","h":6,"t":1.3},{"m":"Oper","h":12,"t":3.4},{"m":"Oper","h":18,"t":5.1},{"m":"Oper","h":24,"t":3.8},{"m":"Oper","h":30,"t":2.8},{"m":"Oper","h":36,"t":1.7},{"m":"Oper","h":42,"t":4.8},{"m":"Oper","h":48,"t":7.3},{"m":"Oper","h":54,"t":8.4},{"m":"Oper","h":60,"t":8.9},{"m":"Oper","h":66,"t":9.8},{"m":"Oper","h":72,"t":9.5},{"m":"Oper","h":78,"t":9.3},{"m":"Oper","h":84,"t":9.5},{"m":"Oper","h":90,"t":10.0},{"m":"Oper","h":96,"t":10.1},{"m":"Oper","h":102,"t":10.4},{"m":"Oper","h":108,"t":10.9},{"m":"Oper","h":114,"t":11.3},{"m":"Oper","h":120,"t":11.5},{"m":"Oper","h":126,"t":11.1},{"m":"Oper","h":132,"t":11.6},{"m":"Oper","h":138,"t":12.0},{"m":"Oper","h":144,"t":11.6},{"m":"Oper","h":150,"t":12.2},{"m":"Oper","h":156,"t":12.6},{"m":"Oper","h":162,"t":12.9},{"m":"Oper","h":168,"t":12.6},{"m":"Oper","h":174,"t":12.1},{"m":"Oper","h":180,"t":11.5},{"m":"Oper","h":186,"t":10.6},{"m":"Oper","h":192,"t":10.1},{"m":"Oper","h":198,"t":10.3},{"m":"Oper","h":204,"t":10.5},{"m":"Oper","h":210,"t":9.9},{"m":"Oper","h":216,"t":10.2},{"m":"Oper","h":222,"t":10.9},{"m":"Oper","h":228,"t":11.3},{"m":"Oper","h":234,"t":11.6},{"m":"Oper","h":240,"t":11.7},{"m":"Oper","h":246,"t":12.2},{"m":"Oper","h":252,"t":13.1},{"m":"Oper","h":258,"t":14.0},{"m":"Oper","h":264,"t":14.6},{"m":"Oper","h":270,"t":15.4},{"m":"Oper","h":276,"t":15.8},{"m":"Oper","h":282,"t":15.8},{"m":"Oper","h":288,"t":15.4},{"m":"Oper","h":294,"t":15.1},{"m":"Oper","h":300,"t":14.9},{"m":"Oper","h":306,"t":13.6},{"m":"Oper","h":312,"t":10.9},{"m":"Oper","h":318,"t":9.4},{"m":"Oper","h":324,"t":9.7},{"m":"Oper","h":330,"t":10.5},{"m":"Oper","h":336,"t":10.0},{"m":"Oper","h":342,"t":8.7},{"m":"Oper","h":348,"t":10.2},{"m":"Oper","h":354,"t":11.6},{"m":"Oper","h":360,"t":12.0}
],
"precip": [
{"m":"P12","h":18,"p":0},{"m":"P12","h":24,"p":2.4},{"m":"P12","h":30,"p":0},
{"m":"P19","h":18,"p":0},{"m":"P19","h":24,"p":1.9},{"m":"P19","h":30,"p":0},
{"m":"P9","h":84,"p":0},{"m":"P9","h":90,"p":2.0},{"m":"P9","h":96,"p":0},
{"m":"P20","h":126,"p":0},{"m":"P20","h":132,"p":2.6},{"m":"P20","h":138,"p":3.2},{"m":"P20","h":144,"p":3.0},{"m":"P20","h":150,"p":0},
{"m":"P6","h":144,"p":0},{"m":"P6","h":150,"p":2.7},{"m":"P6","h":156,"p":0},
{"m":"P35","h":156,"p":0},{"m":"P35","h":162,"p":3.6},{"m":"P35","h":168,"p":2.1},{"m":"P35","h":174,"p":0},
{"m":"P2","h":162,"p":0},{"m":"P2","h":168,"p":6.7},{"m":"P2","h":174,"p":3.0},{"m":"P2","h":180,"p":5.8},{"m":"P2","h":186,"p":0},{"m":"P2","h":240,"p":0},{"m":"P2","h":246,"p":8.5},{"m":"P2","h":252,"p":0},{"m":"P2","h":330,"p":0},{"m":"P2","h":336,"p":16.4},{"m":"P2","h":342,"p":0},
{"m":"P8","h":168,"p":0},{"m":"P8","h":174,"p":6.6},{"m":"P8","h":180,"p":4.5},{"m":"P8","h":186,"p":5.8},{"m":"P8","h":192,"p":7.6},{"m":"P8","h":198,"p":3.0},{"m":"P8","h":204,"p":0},{"m":"P8","h":270,"p":0},{"m":"P8","h":276,"p":7.8},{"m":"P8","h":282,"p":0},{"m":"P8","h":312,"p":0},{"m":"P8","h":318,"p":13.9},{"m":"P8","h":324,"p":0},
{"m":"P17","h":186,"p":0},{"m":"P17","h":192,"p":4.7},{"m":"P17","h":198,"p":6.0},{"m":"P17","h":204,"p":2.5},{"m":"P17","h":210,"p":0},{"m":"P17","h":240,"p":0},{"m":"P17","h":246,"p":6.0},{"m":"P17","h":252,"p":0},{"m":"P17","h":276,"p":0},{"m":"P17","h":282,"p":6.7},{"m":"P17","h":288,"p":0},{"m":"P17","h":348,"p":0},{"m":"P17","h":354,"p":3.0},{"m":"P17","h":360,"p":7.6},
{"m":"P22","h":288,"p":0},{"m":"P22","h":294,"p":5.3},{"m":"P22","h":300,"p":0},{"m":"P22","h":348,"p":0},{"m":"P22","h":354,"p":11.8},{"m":"P22","h":360,"p":3.5},
{"m":"P13","h":174,"p":0},{"m":"P13","h":180,"p":4.0},{"m":"P13","h":186,"p":0},{"m":"P13","h":294,"p":0},{"m":"P13","h":300,"p":4.4},{"m":"P13","h":306,"p":0},
{"m":"P39","h":300,"p":0},{"m":"P39","h":306,"p":5.2},{"m":"P39","h":312,"p":0},
{"m":"P28","h":318,"p":0},{"m":"P28","h":324,"p":5.2},{"m":"P28","h":330,"p":0},
{"m":"P11","h":204,"p":0},{"m":"P11","h":210,"p":4.5},{"m":"P11","h":216,"p":2.2},{"m":"P11","h":222,"p":0},{"m":"P11","h":318,"p":0},{"m":"P11","h":324,"p":3.5},{"m":"P11","h":330,"p":0},
{"m":"P4","h":222,"p":0},{"m":"P4","h":228,"p":3.8},{"m":"P4","h":234,"p":0},{"m":"P4","h":336,"p":0},{"m":"P4","h":342,"p":4.2},{"m":"P4","h":348,"p":0},
{"m":"P30","h":252,"p":0},{"m":"P30","h":258,"p":3.0},{"m":"P30","h":264,"p":0},{"m":"P30","h":342,"p":0},{"m":"P30","h":348,"p":6.0},{"m":"P30","h":354,"p":2.5},{"m":"P30","h":360,"p":8.0},
{"m":"P40","h":216,"p":0},{"m":"P40","h":222,"p":3.0},{"m":"P40","h":228,"p":0},{"m":"P40","h":258,"p":0},{"m":"P40","h":264,"p":3.5},{"m":"P40","h":270,"p":0},
{"m":"P14","h":234,"p":0},{"m":"P14","h":240,"p":4.0},{"m":"P14","h":246,"p":0},
{"m":"P47","h":330,"p":0},{"m":"P47","h":336,"p":3.5},{"m":"P47","h":342,"p":0},
{"m":"P24","h":186,"p":0},{"m":"P24","h":192,"p":3.2},{"m":"P24","h":198,"p":2.0},{"m":"P24","h":204,"p":0},
{"m":"P1","h":198,"p":0},{"m":"P1","h":204,"p":3.4},{"m":"P1","h":210,"p":0},{"m":"P1","h":264,"p":0},{"m":"P1","h":270,"p":2.8},{"m":"P1","h":276,"p":0},
{"m":"P27","h":228,"p":0},{"m":"P27","h":234,"p":2.6},{"m":"P27","h":240,"p":0},
{"m":"P44","h":282,"p":0},{"m":"P44","h":288,"p":3.9},{"m":"P44","h":294,"p":0},
{"m":"P49","h":174,"p":0},{"m":"P49","h":180,"p":5.2},{"m":"P49","h":186,"p":3.8},{"m":"P49","h":192,"p":0}
]
},
"encoding": {
"x": {"field": "h", "type": "quantitative", "scale": {"domain": [0, 360], "nice": false, "zero": false},
"axis": {"orient": "top", "values": [24,48,72,96,120,144,168,192,216,240,264,288,312,336], "labels": false, "ticks": false, "title": null, "grid": true, "gridColor": "#555555", "gridDash": [2, 3], "domainColor": "#aaaaaa", "domainWidth": 1.5}},
"color": {"field": "m", "type": "nominal",
"scale": {"domain": ["P1","P2","P3","P4","P5","P6","P7","P8","P9","P10","P11","P12","P13","P14","P15","P16","P17","P18","P19","P20","P21","P22","P23","P24","P25","P26","P27","P28","P29","P30","P31","P32","P33","P34","P35","P36","P37","P38","P39","P40","P41","P42","P43","P44","P45","P46","P47","P48","P49","P50","Control","Ens. mean","Oper","1991-2020 mean"],
"range": ["#3355cc","#4466bb","#3a88c0","#45a5c5","#3a9e96","#3aa67a","#3daf5c","#40b84a","#44c044","#52c850","#d4b23c","#d9a945","#c9975f","#c88a5a","#c5854a","#c27d55","#c26540","#b65a3e","#a83c34","#9a3030","#3355cc","#4466bb","#3a88c0","#45a5c5","#3a9e96","#3aa67a","#3daf5c","#40b84a","#44c044","#52c850","#d4b23c","#d9a945","#c9975f","#c88a5a","#c5854a","#c27d55","#c26540","#b65a3e","#a83c34","#9a3030","#3355cc","#4466bb","#3a88c0","#45a5c5","#3a9e96","#3aa67a","#3daf5c","#40b84a","#44c044","#52c850","#2233dd","#ffffff","#33cc33","#e04040"]},
"legend": {"title": null, "orient": "none", "legendX": -174, "legendY": 5, "direction": "horizontal", "columns": 2, "symbolLimit": 100, "symbolType": "stroke", "symbolSize": 90, "symbolStrokeWidth": 2, "labelColor": "#e6e6e6", "labelFont": "DejaVu Sans", "labelFontSize": 11, "labelOffset": 2, "columnPadding": 0, "rowPadding": 4.6, "padding": 0, "labelLimit": 0,
"labelExpr": "datum.label === '1991-2020 mean' ? ['1991-2020', 'mean'] : datum.label"}}
},
"layer": [
{
"data": {"name": "precip"},
"mark": {"type": "line", "strokeWidth": 1.2, "clip": true, "opacity": 0.9},
"encoding": {
"y": {"field": "p", "type": "quantitative", "scale": {"domain": [1.5, 40], "nice": false, "zero": false},
"axis": {"orient": "right", "values": [2,3,4,5,6,7,8,9,10,11,12,13,14,15,16,17,18,19,20,21,22,23,24,25,26,27,28,29,30,31,32,33,34,35,36,37,38,39,40], "labelExpr": "datum.value % 10 === 0 ? datum.label : ''", "labelOverlap": false, "labelBound": false, "grid": false, "ticks": true, "tickSize": -3, "tickColor": "#aaaaaa", "domainColor": "#aaaaaa", "domainWidth": 1.5, "labelColor": "#dddddd", "labelFont": "DejaVu Sans", "labelFontSize": 10.5, "labelPadding": 8, "title": "Precipitation (mm)", "titleColor": "#dddddd", "titleFont": "DejaVu Sans", "titleFontSize": 10.5, "titleFontWeight": "normal", "titlePadding": 9, "titleY": 279}}
}
},
{
"encoding": {
"y": {"field": "t", "type": "quantitative", "scale": {"domain": [-18.17, 25], "nice": false, "zero": false},
"axis": {"orient": "left", "values": [-15,-10,-5,0,5,10,15,20,25], "grid": true, "gridColor": "#555555", "gridDash": [2, 3], "ticks": false, "domainColor": "#aaaaaa", "domainWidth": 1.5, "labelColor": "#dddddd", "labelFont": "DejaVu Sans", "labelFontSize": 10, "labelPadding": 9, "title": "850 hPa Temp. (°C)", "titleColor": "#dddddd", "titleFont": "DejaVu Sans", "titleFontSize": 10.5, "titleFontWeight": "normal", "titlePadding": 2, "titleY": 279}}
},
"layer": [
{
"data": {"name": "temp"},
"mark": {"type": "line", "strokeWidth": 1.1, "opacity": 0.9, "clip": true}
},
{
"data": {"name": "temp"},
"transform": [{"filter": "datum.m === 'Control'"}],
"mark": {"type": "line", "strokeWidth": 1.6, "clip": true},
"encoding": {"color": {"value": "#2233dd"}}
},
{
"data": {"name": "temp"},
"transform": [{"filter": "datum.m === '1991-2020 mean'"}],
"mark": {"type": "line", "strokeWidth": 3.2, "opacity": 0.9, "clip": true},
"encoding": {"color": {"value": "#e04040"}}
},
{
"data": {"name": "temp"},
"transform": [{"filter": "datum.m === 'Ens. mean'"}],
"mark": {"type": "line", "strokeWidth": 3.2, "clip": true},
"encoding": {"color": {"value": "#ffffff"}}
},
{
"data": {"name": "temp"},
"transform": [{"filter": "datum.m === 'Oper'"}],
"mark": {"type": "line", "strokeWidth": 3.2, "clip": true},
"encoding": {"color": {"value": "#33cc33"}}
},
{
"data": {"values": [{"box": "red", "h": 44.8, "h2": 353.1, "t": 16.56, "t2": 3.96}]},
"mark": {"type": "rect", "filled": false, "strokeWidth": 4, "clip": false},
"encoding": {"x2": {"field": "h2"}, "y2": {"field": "t2"}, "color": {"value": "#e8202a"}}
},
{
"data": {"values": [{"box": "cold", "h": 2.1, "h2": 40.0, "t": 5.83, "t2": -0.67}]},
"mark": {"type": "rect", "filled": false, "strokeWidth": 4, "clip": false},
"encoding": {"x2": {"field": "h2"}, "y2": {"field": "t2"}, "color": {"value": "#f2ee00"}}
},
{
"data": {"values": [
{"edge": "top", "h": 160.5, "h2": 362.1, "t": -11.8, "t2": -11.8},
{"edge": "left", "h": 160.5, "h2": 160.5, "t": -11.8, "t2": -19},
{"edge": "right", "h": 362.1, "h2": 362.1, "t": -11.8, "t2": -19}
]},
"mark": {"type": "rule", "strokeWidth": 4, "strokeCap": "square", "clip": false},
"encoding": {"x2": {"field": "h2"}, "y2": {"field": "t2"}, "color": {"value": "#f2ee00"}}
},
{
"data": {"values": [
{"h": 195.2, "t": 18.5, "txt": "OSETNO TOPLIJE, ZNATNO IZNAD PROSEKA"},
{"h": 18.1, "t": 6.97, "txt": "HLADNO"},
{"h": 231.5, "t": -8.95, "txt": "RETKE I SLABE PADAVINE"}
]},
"mark": {"type": "text", "font": "DejaVu Sans", "fontWeight": "bold", "fontSize": 20, "align": "center", "baseline": "middle", "clip": false},
"encoding": {"text": {"field": "txt"}, "color": {"value": "#f2ee00"}}
},
{
"data": {"values": [{"h": 151.5, "t": 25.97, "txt": "Novi Sad\u00a0 (RS)\u00a0 850 hPa Temp. & Precipitation | Mon, 27Oct2025 00Z"}]},
"mark": {"type": "text", "font": "DejaVu Sans Condensed, DejaVu Sans", "fontWeight": "bold", "fontSize": 18.5, "align": "center", "baseline": "alphabetic", "clip": false},
"encoding": {"text": {"field": "txt"}, "color": {"value": "#ffffff"}}
},
{
"data": {"values": [{"panel": "notes", "h": 382.4, "h2": 560, "t": 28.6, "t2": -19}]},
"mark": {"type": "rect", "clip": false},
"encoding": {"x2": {"field": "h2"}, "y2": {"field": "t2"}, "color": {"value": "#ffffff"}}
}
]
},
{
"data": {"values": [
{"line": 0, "h": 384.5, "txt": "ANSMABLE NIZ ECMWF-a"},
{"line": 1, "h": 384.5, "txt": "OD SREDE PA SVE DO"},
{"line": 2, "h": 384.5, "txt": "OKO 08.11. SIMULIRA"},
{"line": 3, "h": 384.5, "txt": "RELATIVNO TOPLO"},
{"line": 4, "h": 384.5, "txt": "VREME"},
{"line": 10, "h": 383.0, "txt": "POSLE PROLAZNIH"},
{"line": 11, "h": 383.0, "txt": "PADAVINA U TOKU NOĆI I"},
{"line": 12, "h": 383.0, "txt": "SUTRA UJUTRO, RETKE I"},
{"line": 13, "h": 383.0, "txt": "SLABE PADAVINE SU"},
{"line": 14, "h": 383.0, "txt": "MOGUĆE TEK POSLE"},
{"line": 15, "h": 383.0, "txt": "02.11."}
]},
"mark": {"type": "text", "align": "left", "baseline": "middle", "font": "DejaVu Sans", "fontWeight": "bold", "fontSize": 19.5, "clip": false},
"encoding": {
"y": {"field": "line", "type": "quantitative", "scale": {"domain": [16.335, -2.562], "nice": false, "zero": false}, "axis": null},
"text": {"field": "txt"},
"color": {"value": "#000000"}
}
}
],
"resolve": {"scale": {"y": "independent"}},
"config": {
"view": {"stroke": null},
"font": "DejaVu Sans"
}
}
